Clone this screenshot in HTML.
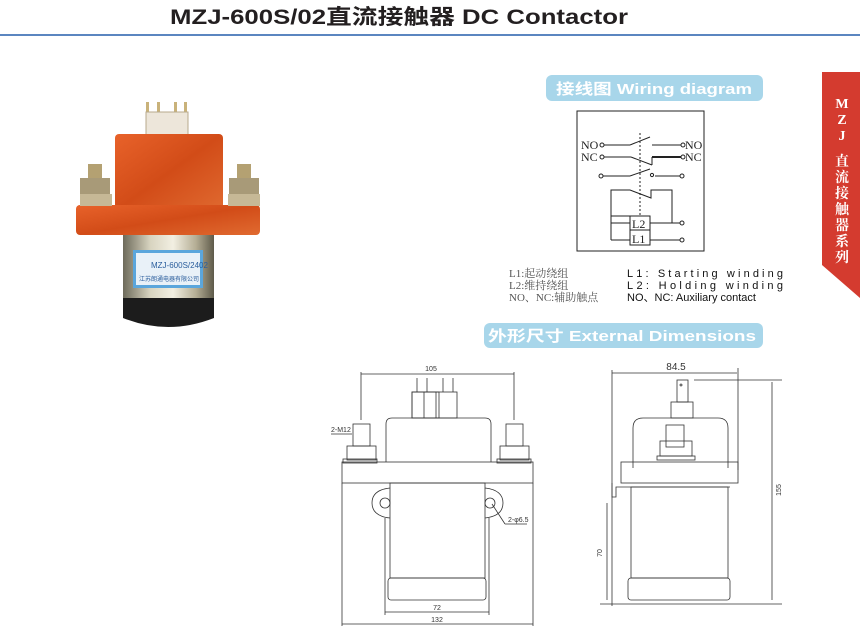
<!DOCTYPE html>
<html><head><meta charset="utf-8"><style>
html,body{margin:0;padding:0;background:#fff;}
svg{display:block}
</style></head><body>
<svg width="860" height="627" viewBox="0 0 860 627" xmlns="http://www.w3.org/2000/svg" font-family="Liberation Sans, Noto Sans CJK SC, sans-serif">
<defs>
<linearGradient id="coil" x1="0" x2="1" y1="0" y2="0">
<stop offset="0" stop-color="#6d6a5a"/><stop offset="0.3" stop-color="#d8d4c0"/><stop offset="0.55" stop-color="#f2efe2"/><stop offset="0.8" stop-color="#b5ae95"/><stop offset="1" stop-color="#5e5a4a"/>
</linearGradient>
<linearGradient id="org" x1="0" x2="1" y1="0" y2="1">
<stop offset="0" stop-color="#e8622a"/><stop offset="0.5" stop-color="#d24c18"/><stop offset="1" stop-color="#e06a30"/>
</linearGradient>
</defs>
<!-- title -->
<text x="399" y="24" text-anchor="middle" font-size="21" font-weight="bold" fill="#231f20" textLength="458" lengthAdjust="spacingAndGlyphs">MZJ-600S/02直流接触器 DC Contactor</text>
<rect x="0" y="34" width="860" height="2" fill="#5b86c0"/>

<!-- red tab -->
<polygon points="822,72 860,72 860,298 822,265" fill="#d43b2f"/>
<g fill="#fff" font-family="Liberation Serif, Noto Serif CJK SC, serif" font-weight="bold" font-size="14" text-anchor="middle">
<text x="842" y="108">M</text><text x="842" y="124">Z</text><text x="842" y="140">J</text>
<text x="842" y="166">直</text><text x="842" y="182">流</text><text x="842" y="198">接</text><text x="842" y="214">触</text><text x="842" y="230">器</text><text x="842" y="246">系</text><text x="842" y="262">列</text>
</g>

<!-- banners -->
<rect x="546" y="75" width="217" height="26" rx="6" fill="#a8d6ea"/>
<text x="556" y="94" font-size="15" font-weight="bold" fill="#fff" textLength="196" lengthAdjust="spacingAndGlyphs">接线图 Wiring diagram</text>
<rect x="484" y="323" width="279" height="25" rx="6" fill="#a8d6ea"/>
<text x="488" y="341" font-size="15" font-weight="bold" fill="#fff" textLength="268" lengthAdjust="spacingAndGlyphs">外形尺寸 External Dimensions</text>

<!-- wiring diagram -->
<g stroke="#222" stroke-width="1" fill="none">
<rect x="577" y="111" width="127" height="140"/>
<line x1="604" y1="145" x2="630" y2="145"/><line x1="630" y1="145" x2="650" y2="137"/><line x1="652" y1="145" x2="681" y2="145"/>
<line x1="604" y1="157" x2="631" y2="157"/><line x1="631" y1="157" x2="652" y2="165"/><line x1="652" y1="165" x2="652" y2="157"/><line x1="652" y1="157" x2="681" y2="157" stroke-width="2"/>
<line x1="603" y1="176" x2="630" y2="176"/><line x1="630" y1="176" x2="650" y2="169"/><line x1="655" y1="176" x2="680" y2="176"/>
<polyline points="630,216 611,216"/>
<polyline points="611,240 611,190 630,190 651,198 651,190 672,190 672,223"/>
<rect x="630" y="216" width="20" height="14"/><rect x="630" y="230" width="20" height="15"/>
<line x1="611" y1="223" x2="630" y2="223"/><line x1="650" y1="223" x2="680" y2="223"/>
<line x1="611" y1="240" x2="630" y2="240"/><line x1="650" y1="240" x2="680" y2="240"/>
<line x1="640" y1="133" x2="640" y2="216" stroke-dasharray="2,2"/>
<circle cx="602" cy="145" r="2"/><circle cx="683" cy="145" r="2"/>
<circle cx="602" cy="157" r="2"/><circle cx="683" cy="157" r="2"/>
<circle cx="601" cy="176" r="2"/><circle cx="682" cy="176" r="2"/><circle cx="652" cy="175" r="1.6"/>
<circle cx="682" cy="223" r="2"/><circle cx="682" cy="240" r="2"/>
</g>
<g font-family="Liberation Serif, Noto Serif CJK SC, serif" font-size="12" fill="#222">
<text x="581" y="149">NO</text><text x="685" y="149">NO</text>
<text x="581" y="161">NC</text><text x="685" y="161">NC</text>
<text x="632" y="228">L2</text><text x="632" y="243">L1</text>
</g>
<g font-size="11" fill="#333">
<text x="509" y="277" font-family="Liberation Serif, Noto Serif CJK SC, serif" fill="#555">L1:起动绕组</text>
<text x="509" y="289" font-family="Liberation Serif, Noto Serif CJK SC, serif" fill="#555">L2:维持绕组</text>
<text x="509" y="301" font-family="Liberation Serif, Noto Serif CJK SC, serif" fill="#555">NO、NC:辅助触点</text>
<text x="627" y="277" textLength="156" lengthAdjust="spacing" fill="#111">L1:  Starting  winding</text>
<text x="627" y="289" textLength="156" lengthAdjust="spacing" fill="#111">L2:  Holding  winding</text>
<text x="627" y="301" fill="#111">NO、NC: Auxiliary contact</text>
</g>

<!-- photo -->
<g>
<rect x="146" y="102" width="3" height="12" fill="#c9b27a"/><rect x="157" y="102" width="3" height="12" fill="#c9b27a"/><rect x="174" y="102" width="3" height="12" fill="#c9b27a"/><rect x="184" y="102" width="3" height="12" fill="#c9b27a"/>
<rect x="146" y="112" width="42" height="30" fill="#ede6da" stroke="#b8a98c"/>
<rect x="115" y="134" width="108" height="78" rx="4" fill="url(#org)"/>
<rect x="76" y="205" width="184" height="30" rx="4" fill="url(#org)"/>
<rect x="123" y="235" width="91" height="70" fill="url(#coil)"/>
<path d="M123,298 L214,298 L214,318 Q168,336 123,318 Z" fill="#1c1c1c"/>
<rect x="133" y="250" width="70" height="38" fill="#5ba6dc"/>
<rect x="136" y="253" width="64" height="32" fill="#e9f1f8"/>
<text x="151" y="268" font-size="8" fill="#2a5d9c">MZJ-600S/2402</text>
<text x="139" y="281" font-size="6" fill="#2a5d9c">江苏朗通电器有限公司</text>
<rect x="88" y="164" width="14" height="22" fill="#b4a172"/><rect x="80" y="178" width="30" height="16" fill="#a89a78"/><rect x="80" y="194" width="32" height="12" fill="#c6b896"/>
<rect x="237" y="164" width="14" height="22" fill="#b4a172"/><rect x="229" y="178" width="30" height="16" fill="#a89a78"/><rect x="228" y="194" width="32" height="12" fill="#c6b896"/>
</g>

<!-- left dimension view -->
<g stroke="#333" stroke-width="0.8" fill="none">
<line x1="361" y1="372" x2="361" y2="420"/><line x1="514" y1="372" x2="514" y2="420"/>
<line x1="361" y1="374" x2="514" y2="374"/>
<rect x="412" y="392" width="24" height="26"/><rect x="424" y="392" width="15" height="26"/>
<line x1="417" y1="378" x2="417" y2="392"/><line x1="427" y1="378" x2="427" y2="392"/><line x1="443" y1="378" x2="443" y2="392"/><line x1="453" y1="378" x2="453" y2="392"/>
<rect x="412" y="392" width="45" height="26"/>
<path d="M386,462 L386,424 Q386,418 392,418 L485,418 Q491,418 491,424 L491,462"/>
<rect x="353" y="424" width="17" height="22"/><rect x="347" y="446" width="29" height="14"/><rect x="343" y="459" width="34" height="4"/>
<rect x="506" y="424" width="17" height="22"/><rect x="500" y="446" width="29" height="14"/><rect x="497" y="459" width="34" height="4"/>
<rect x="342" y="462" width="191" height="21"/>
<line x1="342" y1="483" x2="342" y2="626"/><line x1="533" y1="483" x2="533" y2="626"/>
<rect x="390" y="483" width="95" height="95"/>
<rect x="388" y="578" width="98" height="22" rx="3"/>
<circle cx="385" cy="503" r="5"/><circle cx="490" cy="503" r="5"/>
<path d="M390,488 Q372,490 372,503 Q372,516 390,518"/><path d="M485,488 Q503,490 503,503 Q503,516 485,518"/>
<line x1="385" y1="518" x2="385" y2="615"/><line x1="489" y1="518" x2="489" y2="615"/>
<line x1="385" y1="612" x2="489" y2="612"/>
<line x1="342" y1="624" x2="533" y2="624"/>
<line x1="492" y1="504" x2="505" y2="524"/><line x1="505" y1="524" x2="527" y2="524"/>
<line x1="331" y1="434" x2="352" y2="434"/>
</g>
<g font-size="7" fill="#333">
<text x="431" y="371" text-anchor="middle">105</text>
<text x="331" y="432">2-M12</text>
<text x="508" y="522">2-φ6.5</text>
<text x="437" y="610" text-anchor="middle">72</text>
<text x="437" y="622" text-anchor="middle">132</text>
</g>

<!-- right dimension view -->
<g stroke="#333" stroke-width="0.8" fill="none">
<line x1="612" y1="370" x2="612" y2="606"/><line x1="738" y1="368" x2="738" y2="470"/>
<line x1="612" y1="373" x2="737" y2="373"/>
<rect x="677" y="380" width="11" height="22"/><circle cx="681" cy="385" r="1"/>
<rect x="671" y="402" width="22" height="16"/>
<path d="M633,468 L633,428 Q633,418 643,418 L718,418 Q728,418 728,428 L728,468"/>
<rect x="666" y="425" width="18" height="22"/><rect x="660" y="441" width="32" height="15"/><rect x="657" y="456" width="38" height="4"/>
<rect x="621" y="462" width="117" height="21"/>
<path d="M612,483 L612,497 L616,497 L616,487 L730,487"/>
<rect x="631" y="487" width="97" height="91"/>
<rect x="628" y="578" width="102" height="22" rx="3"/>
<line x1="694" y1="380" x2="782" y2="380"/>
<line x1="772" y1="382" x2="772" y2="600"/>
<line x1="607" y1="503" x2="607" y2="600"/>
<line x1="600" y1="604" x2="782" y2="604"/>
</g>
<g font-size="9" fill="#333">
<text x="676" y="370" text-anchor="middle" font-size="10">84.5</text>
<text transform="translate(781,490) rotate(-90)" text-anchor="middle" font-size="7">155</text>
<text transform="translate(602,553) rotate(-90)" text-anchor="middle" font-size="7">70</text>
</g>
</svg>
</body></html>
